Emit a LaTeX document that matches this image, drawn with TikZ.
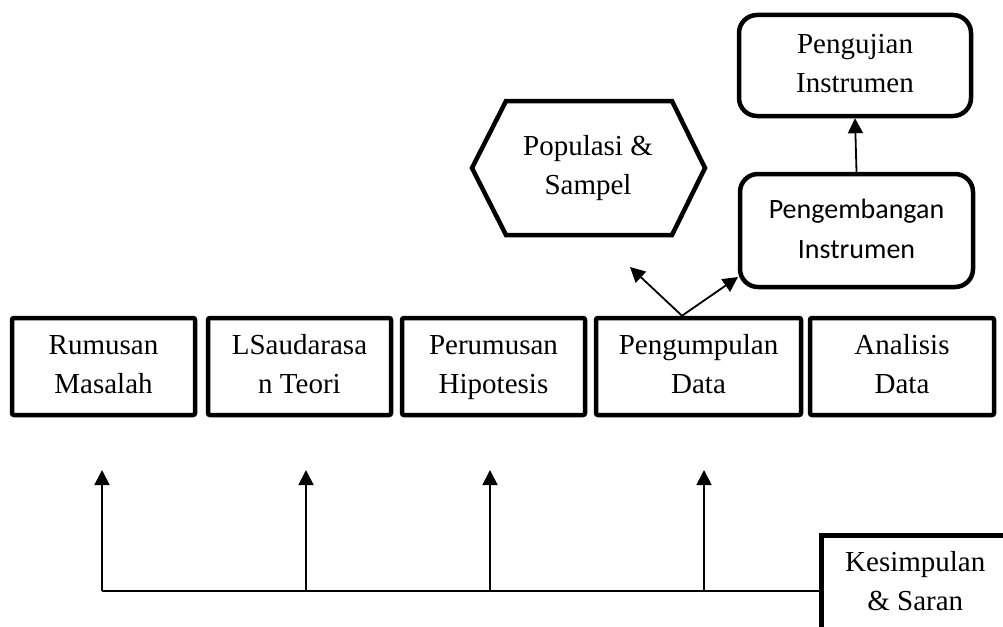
\documentclass[tikz,border=0pt]{standalone}
\usepackage{fontspec}
\setmainfont{Liberation Serif}
\newfontfamily\calibrifont{Carlito}
\usetikzlibrary{arrows.meta}
\begin{document}
\begin{tikzpicture}[x=1pt,y=-1pt,
  txt/.style={align=center, inner sep=0pt, font=\fontsize{29}{39}\selectfont},
  box/.style={txt, draw, line width=4.5pt, rounded corners=2pt, minimum width=183pt, minimum height=97pt},
  rbox/.style={txt, draw, line width=4.5pt, rounded corners=18pt},
  conn/.style={line width=1.8pt},
  arr/.style={conn, -{Triangle[length=15pt,width=15pt]}}]
\useasboundingbox (0,0) rectangle (1003,626);
\clip (0,0) rectangle (1003,626);
% main row
\node[box] (rm) at (103.5,366.5) {\strut Rumusan\\Masalah\strut};
\node[box] (ls) at (299.5,366.5) {\strut LSaudarasa\\n Teori\strut};
\node[box] (ph) at (493.5,366.5) {\strut Perumusan\\Hipotesis\strut};
\node[box, minimum width=205pt] (pd) at (698.5,366.5) {\strut Pengumpulan\\Data\strut};
\node[box, minimum width=184pt] (ad) at (902,366.5) {\strut Analisis\\Data\strut};
% conclusion (cut off by the page edge)
\node[box, rounded corners=0pt, minimum width=188pt, minimum height=96pt, anchor=north west] (ks) at (819,533) {\strut Kesimpulan\\\& Saran\strut};
% upper boxes
\node[rbox, minimum width=232pt, minimum height=101pt] (pu) at (855,65.5) {\strut Pengujian\\Instrumen\strut};
\node[rbox, minimum width=233pt, minimum height=113pt, font=\calibrifont\fontsize{28}{40}\selectfont] (pg) at (856.5,230.5) {\strut Pengembangan\\Instrumen\strut};
% hexagon
\coordinate (h1) at (472,168);
\coordinate (h2) at (506,101);
\coordinate (h3) at (672,101);
\coordinate (h4) at (705,168);
\coordinate (h5) at (672,235);
\coordinate (h6) at (506,235);
\draw[line width=4.5pt] (h1) -- (h2) -- (h3) -- (h4) -- (h5) -- (h6) -- cycle;
\node[txt] (pop) at (588,167.5) {\strut Populasi \&\\Sampel\strut};
% arrows at top
\draw[arr] (pg.north) -- (pu.south);
\coordinate (pdtop) at ([xshift=-16.5pt]pd.north);
\coordinate (popend) at (630,267);
\coordinate (pgend) at (738,277);
\draw[arr] (pdtop) -- (popend);
\draw[arr] (pdtop) -- (pgend);
% bottom feedback line
\coordinate (b1) at (102,591);
\coordinate (b2) at (306,591);
\coordinate (b3) at (490,591);
\coordinate (b4) at (704,591);
\coordinate (t1) at (102,470);
\coordinate (t2) at (306,470);
\coordinate (t3) at (490,470);
\coordinate (t4) at (704,470);
\draw[conn] (b1) -- (b1 -| ks.west);
\draw[arr] (b1) -- (t1);
\draw[arr] (b2) -- (t2);
\draw[arr] (b3) -- (t3);
\draw[arr] (b4) -- (t4);
\end{tikzpicture}
\end{document}
